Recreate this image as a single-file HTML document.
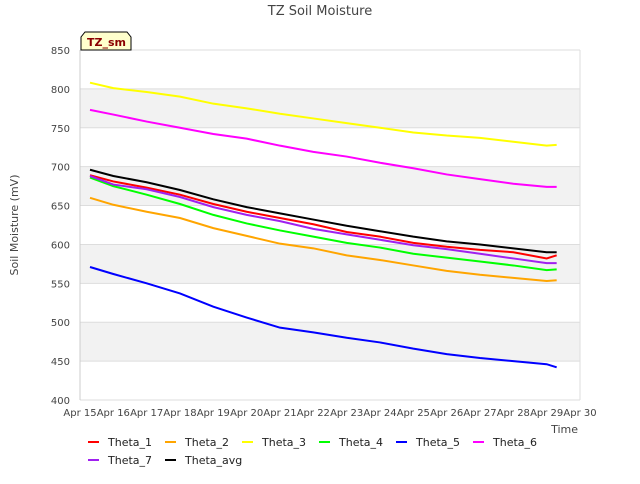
<!DOCTYPE html>
<html><head><meta charset="utf-8"><style>
body{margin:0;background:#fff;font-family:"DejaVu Sans","Liberation Sans",sans-serif;}
svg text{font-family:"DejaVu Sans","Liberation Sans",sans-serif;}
</style></head><body>
<svg id="c" width="640" height="480" xmlns="http://www.w3.org/2000/svg">
<text x="320" y="15" text-anchor="middle" font-size="13" fill="#444">TZ Soil Moisture</text>
<text transform="translate(18,225) rotate(-90)" text-anchor="middle" font-size="11" fill="#444">Soil Moisture (mV)</text>
<text x="578" y="433" text-anchor="end" font-size="11" fill="#444">Time</text>
<g id="grid"></g><g id="series"></g><g id="legend"></g>
<g>
<path d="M81,50 L81,37 L85,32 L127,32 L131,37 L131,50 Z" fill="#ffffcc" stroke="#000" stroke-width="1"/>
<text x="87" y="46" font-size="11" font-weight="bold" fill="#8b0000">TZ_sm</text></g>
</svg>
<script>
const days=[0.3,1,2,3,4,5,6,7,8,9,10,11,12,13,14,14.3];
const yTicks=[400,450,500,550,600,650,700,750,800,850];
const xLabels=["Apr 15","Apr 16","Apr 17","Apr 18","Apr 19","Apr 20","Apr 21","Apr 22","Apr 23","Apr 24","Apr 25","Apr 26","Apr 27","Apr 28","Apr 29","Apr 30"];
const names=["Theta_1","Theta_2","Theta_3","Theta_4","Theta_5","Theta_6","Theta_7","Theta_avg"];
const colors=["#ff0000","#ffa500","#ffff00","#00ff00","#0000ff","#ff00ff","#a020f0","#000000"];
const theta1=[689,681,673,664,652,642,634,626,616,610,602,597,593,590,582,586];
const theta2=[660,651,642,634,621,611,601,595,586,580,573,566,561,557,553,554];
const theta3=[808,801,796,790,781,775,768,762,756,750,744,740,737,732,727,728];
const theta4=[686,675,664,652,638,627,618,610,602,596,588,583,578,573,567,568];
const theta5=[571,562,550,537,520,506,493,487,480,474,466,459,454,450,446,442];
const theta6=[773,767,758,750,742,736,727,719,713,705,698,690,684,678,674,674];
const theta7=[688,677,671,661,648,638,630,620,613,606,599,594,588,582,576,576];
const thetaAvg=[696,688,680,670,658,648,640,632,624,617,610,604,600,595,590,590];
const series=[theta1,theta2,theta3,theta4,theta5,theta6,theta7,thetaAvg];
const NS="http://www.w3.org/2000/svg";
const X0=80,X1=580,Y0=400,Y1=50;
const xs=d=>X0+d*(X1-X0)/15;
const ys=v=>Y0-(v-400)*(Y0-Y1)/450;
function mk(t,a,p){const e=document.createElementNS(NS,t);for(const k in a)e.setAttribute(k,a[k]);p.appendChild(e);return e;}
const g=document.getElementById('grid');
for(let i=0;i<yTicks.length-1;i++){
 if(i%2==1){const r=mk('rect',{x:X0,y:ys(yTicks[i+1]),width:X1-X0,height:ys(yTicks[i])-ys(yTicks[i+1]),fill:'#f2f2f2'},g);
 
 }
}
yTicks.forEach(v=>{
 const l=mk('line',{x1:X0,x2:X1,y1:ys(v),y2:ys(v),stroke:'#dddddd'},g);
 
 
 const t=mk('text',{x:X0-10,y:ys(v)+4,'text-anchor':'end','font-size':10,fill:'#444'},g);t.textContent=v;
 
 
});
mk('line',{x1:X0,x2:X0,y1:Y1,y2:Y0,stroke:'#ccc'},g);
mk('line',{x1:X1,x2:X1,y1:Y1,y2:Y0,stroke:'#ddd'},g);
xLabels.forEach((s,i)=>{
 const t=mk('text',{x:xs(i),y:Y0+16,'text-anchor':'middle','font-size':10,fill:'#444'},g);t.textContent=s;
 
 
});
const sg=document.getElementById('series');
series.forEach((arr,k)=>{
 const pts=arr.map((v,i)=>xs(days[i])+','+ys(v)).join(' ');
 const p=mk('polyline',{points:pts,fill:'none',stroke:colors[k],'stroke-width':2},sg);
 
 
});
const lg=document.getElementById('legend');
names.forEach((n,k)=>{
 const col=k<6?k:k-6,row=k<6?0:1;
 const x=88+col*77,y=443+row*18;
 const e=mk('g',{},lg);
 
 
 mk('line',{x1:x,x2:x+11,y1:y-1,y2:y-1,stroke:colors[k],'stroke-width':2},e);
 const t=mk('text',{x:x+20,y:y+3,'font-size':11,fill:'#222'},e);t.textContent=n;
});
</script>
</body></html>
